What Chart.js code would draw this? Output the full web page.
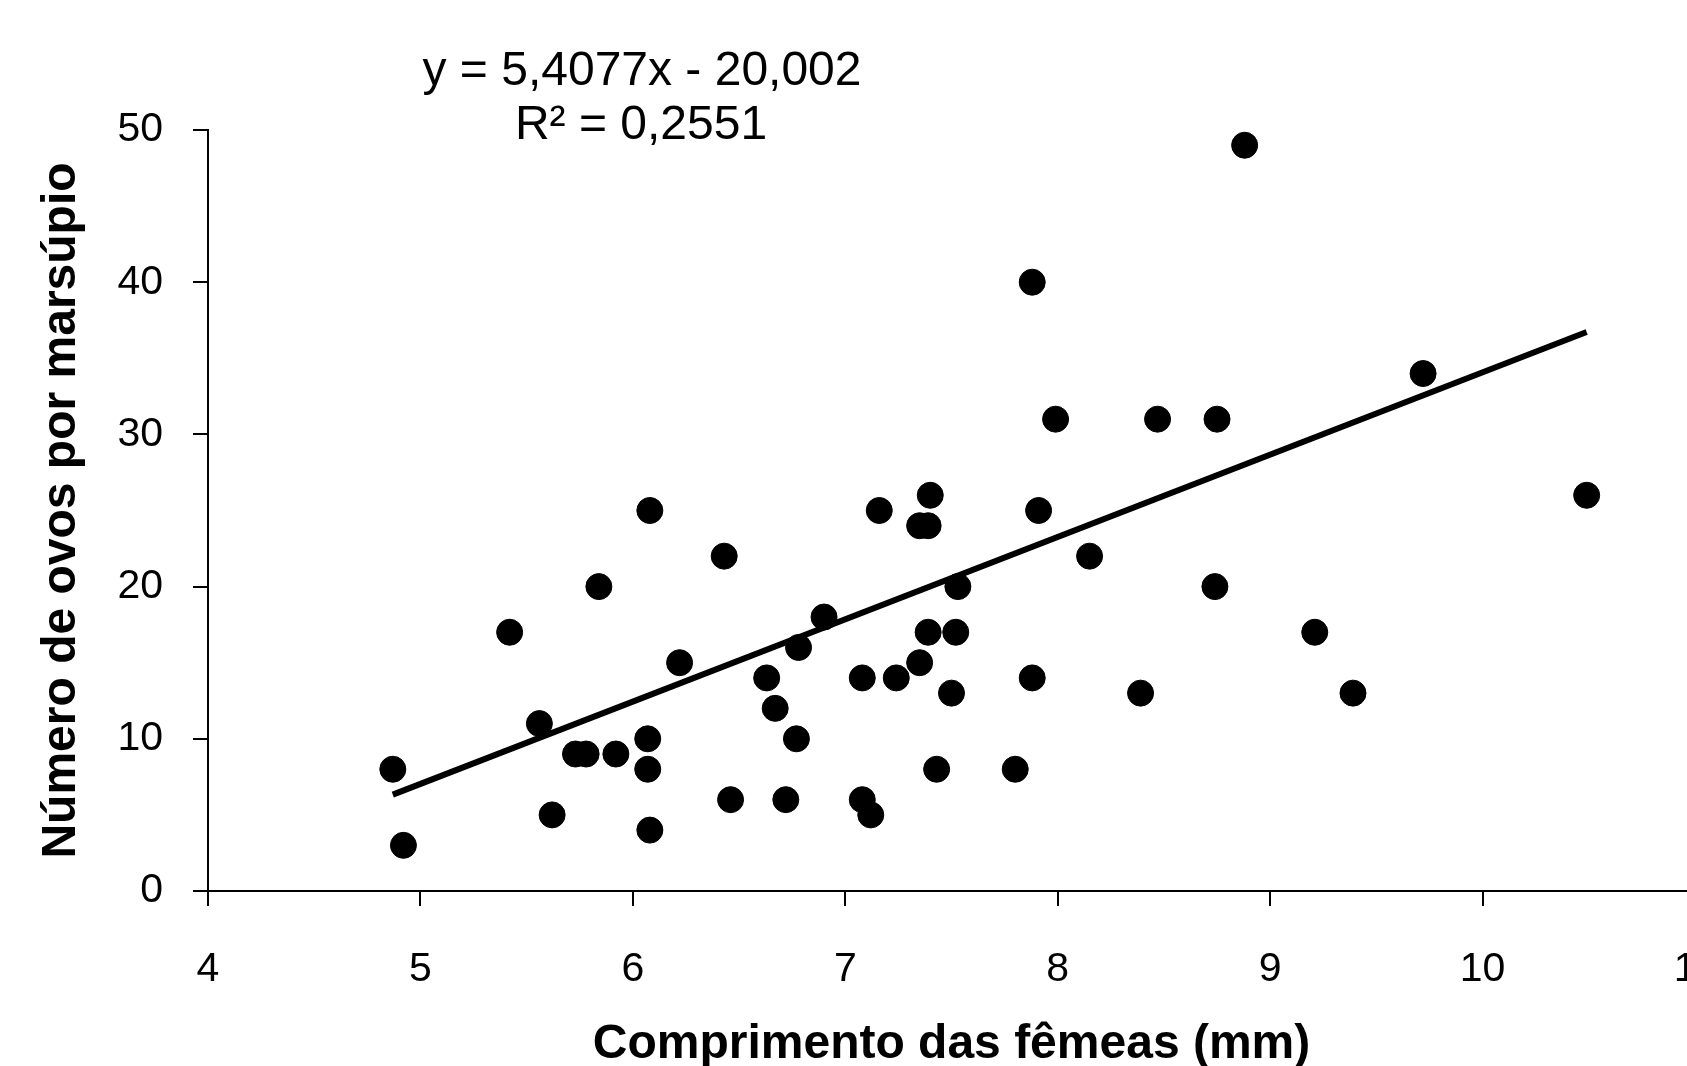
<!DOCTYPE html>
<html>
<head>
<meta charset="utf-8">
<script src="https://cdn.jsdelivr.net/npm/chart.js@4"></script>
<style>
  html, body { margin: 0; padding: 0; background: #fff; overflow: hidden; }
  #wrap { width: 1760px; height: 1066px; }
</style>
</head>
<body>
<div id="wrap"><canvas id="grafico" width="1760" height="1066"></canvas></div>
<script>
// comprimento das fêmeas (mm)
const comprimentos = [4.87, 4.92, 5.42, 5.56, 5.62, 5.73, 5.78, 5.84, 5.92, 6.07, 6.07, 6.08, 6.08, 6.22,
    6.43, 6.46, 6.63, 6.67, 6.72, 6.77, 6.78, 6.90, 7.08, 7.08, 7.12, 7.16, 7.24, 7.35, 7.35, 7.39,
    7.40, 7.39, 7.43, 7.50, 7.52, 7.53, 7.80, 7.88, 7.88, 7.91, 7.99, 8.15, 8.39, 8.47, 8.74, 8.75,
    8.88, 9.21, 9.39, 9.72, 10.49];
// número de ovos por marsúpio
const ovos = [8, 3, 17, 11, 5, 9, 9, 20, 9, 10, 8, 4, 25, 15,
    22, 6, 14, 12, 6, 10, 16, 18, 14, 6, 5, 25, 14, 15, 24, 24,
    26, 17, 8, 13, 17, 20, 8, 40, 14, 25, 31, 22, 13, 31, 20, 31,
    49, 17, 13, 34, 26];
const ticksX = [4, 5, 6, 7, 8, 9, 10, 11];
const ticksY = [0, 10, 20, 30, 40, 50];
const inclinacao = 5.4077;
const intercepto = -20.002;
const equacao = ["y = 5,4077x - 20,002", "R² = 0,2551"];

const pontos = comprimentos.map((x, i) => ({ x: x, y: ovos[i] }));
const xMin = Math.min(...comprimentos);
const xMax = Math.max(...comprimentos);
const tendencia = [
    { x: xMin, y: inclinacao * xMin + intercepto },
    { x: xMax, y: inclinacao * xMax + intercepto }
];

const fonte = "'Liberation Sans', Arial, sans-serif";

// texto da equação da reta
const textoEquacao = {
    id: 'textoEquacao',
    afterDraw(chart) {
        const ctx = chart.ctx;
        ctx.save();
        ctx.fillStyle = '#000';
        ctx.font = "48px " + fonte;
        ctx.textAlign = 'center';
        ctx.textBaseline = 'middle';
        ctx.fillText(equacao[0], 642, 72);
        ctx.fillText(equacao[1], 641, 126);
        ctx.restore();
    }
};

new Chart(document.getElementById('grafico'), {
    type: 'scatter',
    data: {
        datasets: [{
            data: pontos,
            backgroundColor: '#000',
            borderColor: '#000',
            pointRadius: 13,
            pointHoverRadius: 13,
            order: 2
        }, {
            type: 'line',
            data: tendencia,
            borderColor: '#000',
            borderWidth: 6,
            pointRadius: 0,
            fill: false,
            order: 1
        }]
    },
    options: {
        responsive: false,
        animation: false,
        layout: { padding: { left: 0, top: 130, right: 65, bottom: 0 } },
        plugins: {
            legend: { display: false },
            tooltip: { enabled: false }
        },
        scales: {
            x: {
                type: 'linear',
                min: 4,
                max: 11,
                afterFit: s => { s.height = 175; },
                afterBuildTicks: s => { s.ticks = ticksX.map(v => ({ value: v })); },
                border: { display: true, color: '#000', width: 2 },
                grid: { drawOnChartArea: false, tickLength: 15, color: '#000', lineWidth: 2 },
                ticks: { color: '#000', padding: 39, font: { family: fonte, size: 41 }, maxRotation: 0 },
                title: {
                    display: true,
                    text: 'Comprimento das fêmeas (mm)',
                    color: '#000',
                    font: { family: fonte, size: 48, weight: 'bold', lineHeight: 1 },
                    padding: { top: 0, bottom: -3 }
                }
            },
            y: {
                min: 0,
                max: 50,
                afterFit: s => { s.width = 208; },
                afterBuildTicks: s => { s.ticks = ticksY.map(v => ({ value: v })); },
                border: { display: true, color: '#000', width: 2 },
                grid: { drawOnChartArea: false, tickLength: 15, color: '#000', lineWidth: 2 },
                ticks: { color: '#000', padding: 30, font: { family: fonte, size: 41 } },
                title: {
                    display: true,
                    text: 'Número de ovos por marsúpio',
                    color: '#000',
                    font: { family: fonte, size: 48, weight: 'bold', lineHeight: 1 },
                    padding: { top: 38, bottom: 0 }
                }
            }
        }
    },
    plugins: [textoEquacao]
});
</script>
</body>
</html>
